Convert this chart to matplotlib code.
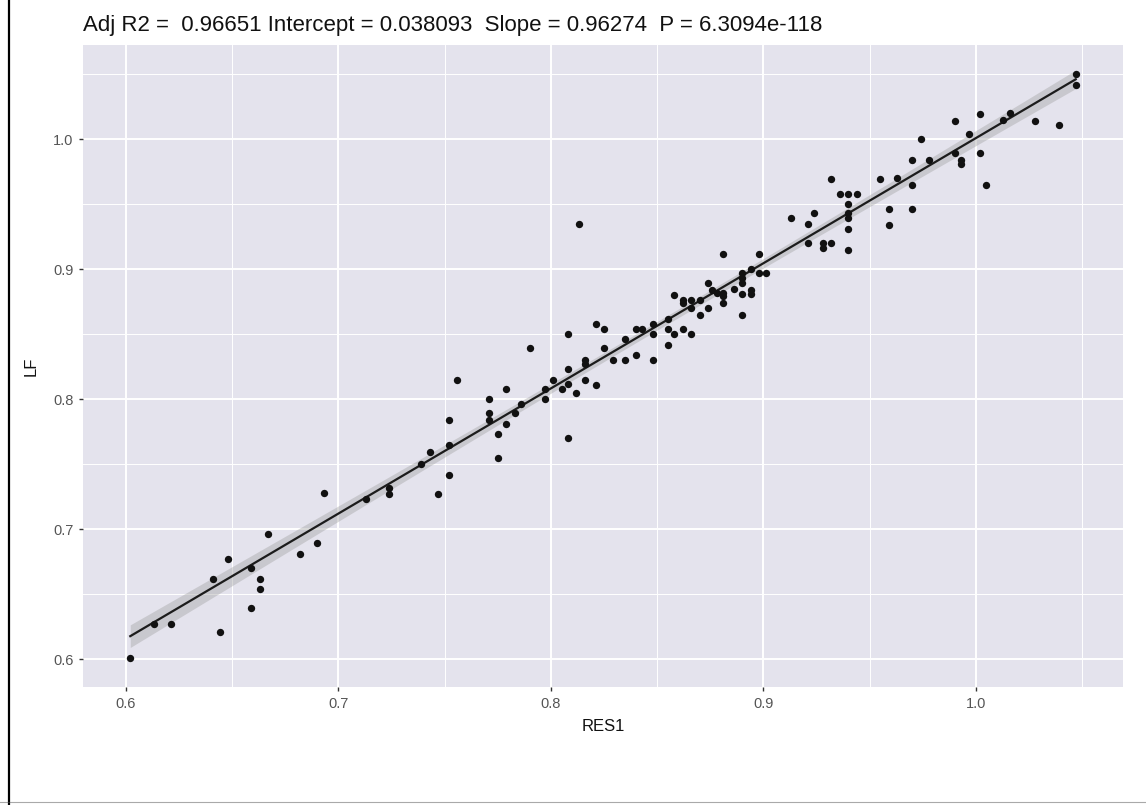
import matplotlib
matplotlib.use("Agg")
import matplotlib.pyplot as plt
from matplotlib.lines import Line2D
import numpy as np

plt.rcParams["font.family"] = ["Liberation Sans", "DejaVu Sans"]

# values (RES1, LF)
res1 = [
    0.602, 0.613, 0.621, 0.644, 0.641, 0.648, 0.659, 0.663, 0.663, 0.659, 0.667, 0.682, 0.690,
    0.693, 0.713, 0.724, 0.724, 0.739, 0.743, 0.747, 0.752, 0.752, 0.752, 0.756, 0.771, 0.771,
    0.771, 0.775, 0.775, 0.779, 0.779, 0.783, 0.786, 0.790, 0.797, 0.797,
    0.801, 0.805, 0.808, 0.808, 0.808, 0.808, 0.812, 0.813, 0.816, 0.816, 0.816, 0.821, 0.821,
    0.825, 0.825, 0.829, 0.835, 0.835, 0.840, 0.840, 0.843, 0.848, 0.848, 0.848, 0.855, 0.855,
    0.855, 0.858, 0.858, 0.862, 0.862, 0.862, 0.866, 0.866, 0.866, 0.870, 0.870, 0.874, 0.874,
    0.876, 0.878, 0.881, 0.881, 0.881, 0.881, 0.886, 0.890, 0.890, 0.890, 0.890, 0.890, 0.894,
    0.894, 0.894, 0.898, 0.898, 0.901, 0.913, 0.921, 0.921, 0.924, 0.928, 0.928, 0.932, 0.932,
    0.936, 0.940, 0.940, 0.940, 0.940, 0.940, 0.940, 0.944, 0.955, 0.959, 0.959,
    0.963, 0.970, 0.970, 0.970, 0.974, 0.978, 0.990, 0.990, 0.993, 0.993, 0.997, 1.002, 1.002,
    1.005, 1.013, 1.016, 1.028, 1.039, 1.047, 1.047,
]
lf = [
    0.601, 0.627, 0.627, 0.621, 0.662, 0.677, 0.670, 0.662, 0.654, 0.639, 0.696, 0.681, 0.689,
    0.728, 0.723, 0.732, 0.727, 0.750, 0.759, 0.727, 0.742, 0.765, 0.784, 0.815, 0.800, 0.789,
    0.784, 0.773, 0.755, 0.808, 0.781, 0.789, 0.796, 0.839, 0.808, 0.800,
    0.815, 0.808, 0.823, 0.850, 0.812, 0.770, 0.805, 0.935, 0.830, 0.827, 0.815, 0.858, 0.811,
    0.854, 0.839, 0.830, 0.846, 0.830, 0.854, 0.834, 0.854, 0.858, 0.850, 0.830, 0.862, 0.854,
    0.842, 0.880, 0.850, 0.876, 0.874, 0.854, 0.876, 0.870, 0.850, 0.876, 0.865, 0.889, 0.870,
    0.884, 0.882, 0.912, 0.882, 0.879, 0.874, 0.885, 0.897, 0.893, 0.889, 0.881, 0.865, 0.900,
    0.884, 0.881, 0.912, 0.897, 0.897, 0.939, 0.935, 0.920, 0.943, 0.920, 0.916, 0.920, 0.969,
    0.958, 0.958, 0.950, 0.943, 0.939, 0.931, 0.915, 0.958, 0.969, 0.946, 0.934,
    0.970, 0.984, 0.965, 0.946, 1.000, 0.984, 1.014, 0.989, 0.984, 0.981, 1.004, 1.019, 0.989,
    0.965, 1.015, 1.020, 1.014, 1.011, 1.050, 1.042,
]

adj_r2 = "0.96651"
intercept = 0.038093
slope = 0.96274
p_value = "6.3094e-118"

x = np.array(res1)
y = np.array(lf)

fig = plt.figure(figsize=(11.46, 8.05), dpi=100)
ax = fig.add_axes([83 / 1146, 1 - 687 / 805, 1040 / 1146, 642 / 805])
ax.set_facecolor("#E4E3ED")

# fitted line + 95% confidence band (geom_smooth(method="lm") style)
xs = np.linspace(x.min(), x.max(), 200)
ys = intercept + slope * xs
n = len(x)
resid = y - (intercept + slope * x)
s = np.sqrt(np.sum(resid ** 2) / (n - 2))
se = s * np.sqrt(1 / n + (xs - x.mean()) ** 2 / np.sum((x - x.mean()) ** 2))
ax.fill_between(xs, ys - 1.98 * se, ys + 1.98 * se, color="#A0A0A0", alpha=0.4, lw=0, zorder=2)
ax.plot(xs, ys, color="#1c1c1c", lw=1.6, zorder=3)
ax.scatter(x, y, s=28, color="#111111", lw=0, zorder=4)

# ggplot-like expanded limits
xr = x.max() - x.min()
yr = y.max() - y.min()
ax.set_xlim(x.min() - 0.05 * xr, x.max() + 0.05 * xr)
ax.set_ylim(y.min() - 0.05 * yr, y.max() + 0.05 * yr)

ax.set_xticks([0.6, 0.7, 0.8, 0.9, 1.0])
ax.set_yticks([0.6, 0.7, 0.8, 0.9, 1.0])
ax.set_xticks([0.65, 0.75, 0.85, 0.95, 1.05], minor=True)
ax.set_yticks([0.65, 0.75, 0.85, 0.95, 1.05], minor=True)
ax.set_xticklabels(["0.6", "0.7", "0.8", "0.9", "1.0"])
ax.set_yticklabels(["0.6", "0.7", "0.8", "0.9", "1.0"])
ax.grid(which="major", color="white", lw=1.4)
ax.grid(which="minor", color="white", lw=0.7)
ax.set_axisbelow(True)
for sp in ax.spines.values():
    sp.set_visible(False)
ax.tick_params(which="major", length=3, width=1, color="#333333",
               labelsize=10.5, labelcolor="#555555", pad=4)
ax.tick_params(which="minor", length=0)

ax.set_xlabel("RES1", fontsize=12, color="#111111", labelpad=6)
ax.set_ylabel("LF", fontsize=12, color="#111111", labelpad=10)

fig.text(83 / 1146, 1 - 25 / 805,
         f"Adj R2 =  {adj_r2} Intercept = {intercept:.6f}  Slope = {slope}  P = {p_value}",
         fontsize=16, ha="left", va="center", color="#111111")

# scan border
fig.add_artist(Line2D([9 / 1146, 9 / 1146], [0, 1], color="black", lw=1.6))
fig.add_artist(Line2D([0, 1], [3 / 805, 3 / 805], color="#555555", lw=0.8, alpha=0.5))

fig.savefig("out.png", dpi=100)
